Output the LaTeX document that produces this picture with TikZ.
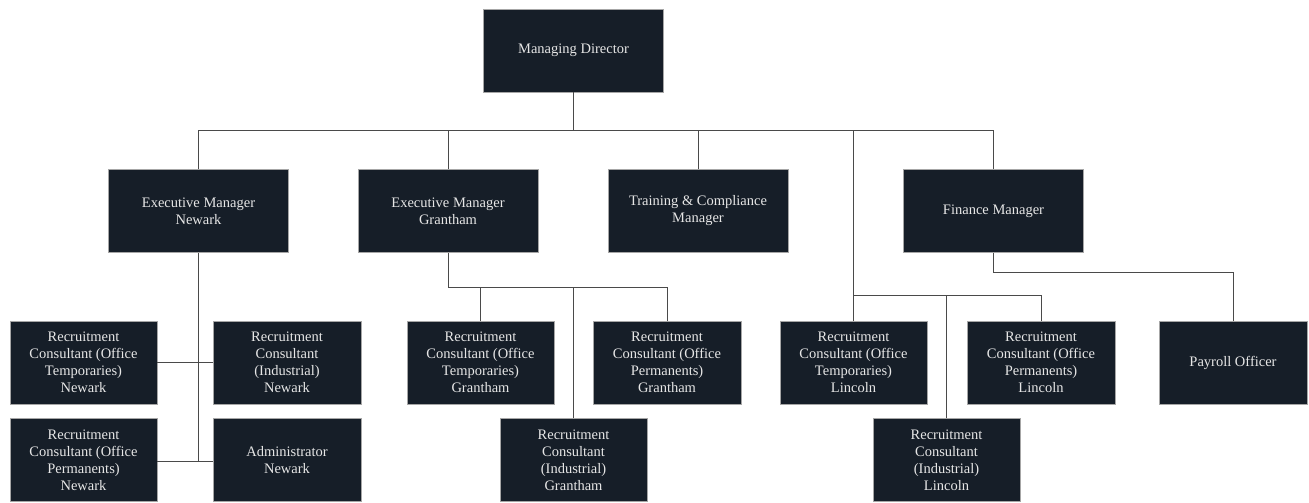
\documentclass[tikz,border=0pt]{standalone}
\usepackage{fontspec}
\setmainfont{Liberation Serif}
\newfontfamily\cardfont{Liberation Serif}
\definecolor{boxfill}{HTML}{161E28}
\definecolor{boxtext}{HTML}{E6E6E6}
\definecolor{linec}{HTML}{4A4A4A}
\begin{document}
\begin{tikzpicture}[x=1pt,y=-1pt,
  card/.style={rectangle, fill=boxfill, draw=gray!70, line width=0.3pt, text=boxtext, inner sep=0pt, align=center,
    font=\cardfont\fontsize{14.5}{17}\selectfont},
  big/.style={card, minimum width=180pt, minimum height=83pt},
  small/.style={card, minimum width=147.5pt, minimum height=83pt},
  conn/.style={draw=linec, line width=1pt}]
\useasboundingbox (0,0) rectangle (1309,503);
% level 1
\node[big] (MD) at (573.5,50.5) {Managing Director};
% level 2
\node[big] (EMN) at (198.5,211) {Executive Manager\\Newark};
\node[big] (EMG) at (448,211) {Executive Manager\\Grantham};
\node[big] (TCM) at (698,211) {Training \& Compliance\\Manager};
\node[big] (FM) at (993.5,211) {Finance Manager};
% level 3
\node[small] (RCTN) at (83.5,362.5) {Recruitment\\Consultant (Office\\Temporaries)\\Newark};
\node[small] (RCIN) at (287,362.5) {Recruitment\\Consultant\\(Industrial)\\Newark};
\node[small] (RCPN) at (83.5,460) {Recruitment\\Consultant (Office\\Permanents)\\Newark};
\node[small] (ADN) at (287,460) {Administrator\\Newark};
\node[small] (RCTG) at (480.5,362.5) {Recruitment\\Consultant (Office\\Temporaries)\\Grantham};
\node[small] (RCPG) at (667,362.5) {Recruitment\\Consultant (Office\\Permanents)\\Grantham};
\node[small] (RCIG) at (573.5,460) {Recruitment\\Consultant\\(Industrial)\\Grantham};
\node[small] (RCTL) at (853.5,362.5) {Recruitment\\Consultant (Office\\Temporaries)\\Lincoln};
\node[small] (RCPL) at (1041,362.5) {Recruitment\\Consultant (Office\\Permanents)\\Lincoln};
\node[small] (RCIL) at (946.5,460) {Recruitment\\Consultant\\(Industrial)\\Lincoln};
\node[small] (PO) at (1233,362.5) {Payroll Officer};
% bus coordinates
\coordinate (topbus) at (0,130);
\coordinate (gbus) at (0,287);
\coordinate (lbus) at (0,295);
\coordinate (nend) at (0,461);
% connectors from Managing Director
\draw[conn] (MD.south) -- (MD.south |- topbus);
\draw[conn] (EMN.north) -- (EMN.north |- topbus) -| (FM.north);
\draw[conn] (EMG.north) -- (EMG.north |- topbus);
\draw[conn] (TCM.north) -- (TCM.north |- topbus);
\draw[conn] (RCTL.north) -- (RCTL.north |- topbus);
% Newark
\draw[conn] (EMN.south) -- (EMN.south |- nend);
\draw[conn] (RCTN.east) -- (RCIN.west);
\draw[conn] (RCPN.east |- nend) -- (ADN.west |- nend);
% Grantham
\draw[conn] (EMG.south) -- (EMG.south |- gbus) -| (RCPG.north);
\draw[conn] (RCTG.north) -- (RCTG.north |- gbus);
\draw[conn] (RCIG.north) -- (RCIG.north |- gbus);
% Lincoln
\draw[conn] (RCTL.north |- lbus) -| (RCPL.north);
\draw[conn] (RCIL.north) -- (RCIL.north |- lbus);
% Finance
\draw[conn] (FM.south) -- ++(0,20) -| (PO.north);
\end{tikzpicture}
\end{document}
